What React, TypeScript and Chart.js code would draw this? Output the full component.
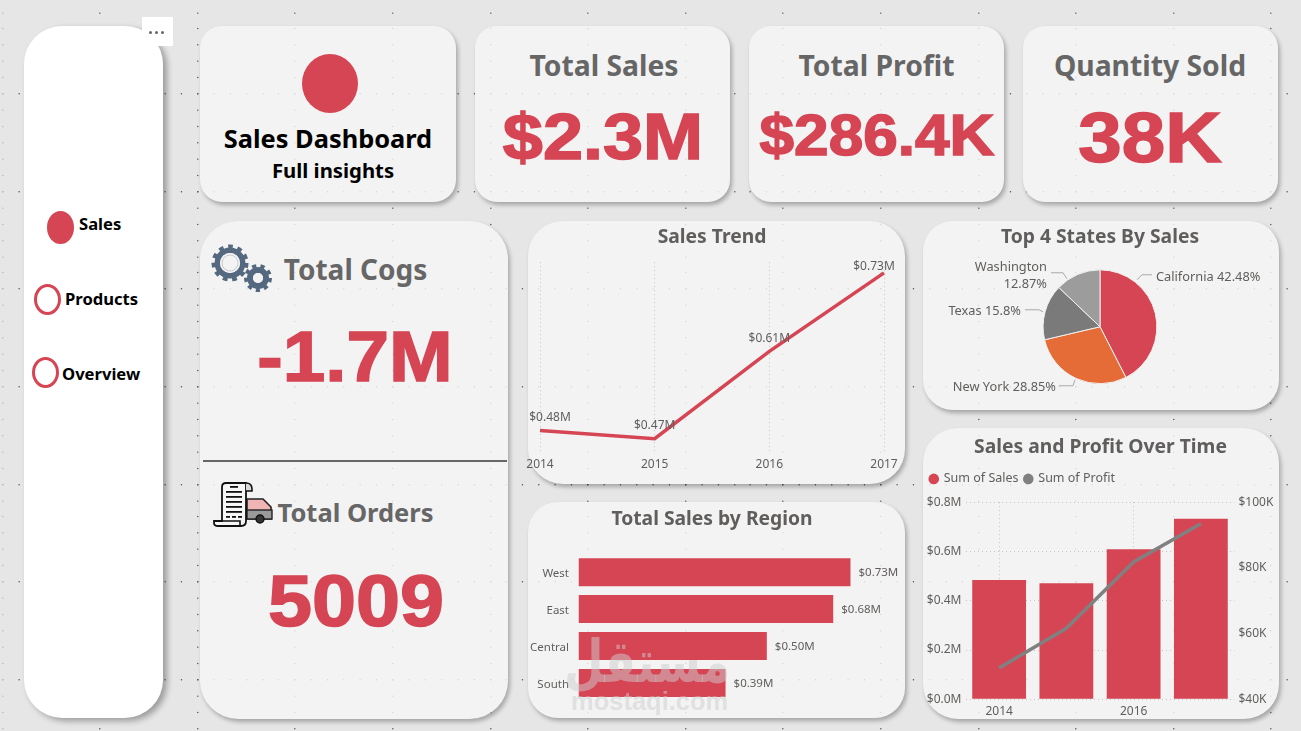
import { useEffect, useRef } from "react";
import { Chart, registerables } from "chart.js";

Chart.register(...registerables);

const FONT = '"Noto Sans", sans-serif';
const RED = "#d64554";
const GREY_TEXT = "#605e5c";

Chart.defaults.font.family = FONT;
Chart.defaults.color = GREY_TEXT;

// data
const years = ["2014", "2015", "2016", "2017"];
const salesByYear = [0.484, 0.471, 0.609, 0.733];
const trendLabels = ["$0.48M", "$0.47M", "$0.61M", "$0.73M"];
const profitByYear = [49.5, 61.6, 81.8, 93.4];
const regions = ["West", "East", "Central", "South"];
const regionSales = [0.725, 0.679, 0.502, 0.392];
const regionLabels = ["$0.73M", "$0.68M", "$0.50M", "$0.39M"];
const states = ["California", "New York", "Texas", "Washington"];
const stateShares = [42.48, 28.85, 15.8, 12.87];
const stateColors = [RED, "#e66c37", "#7a7a7a", "#9c9c9c"];

// leader lines of the pie labels, relative to the pie's centre
const pieLeaders = [
  { pts: [[37, -47], [42, -52], [52, -52]], x: 56, y: [-49], align: "left" },
  { pts: [[-25, 53], [-27, 59], [-41, 59]], x: -44, y: [61], align: "right" },
  { pts: [[-57, -15], [-61, -17], [-75, -17]], x: -79, y: [-15], align: "right" },
  { pts: [[-33, -48], [-37, -54], [-49, -54]], x: -53, y: [-59, -42], align: "right" },
];

function titleOpt(text: string, top: number, bottom: number) {
  return {
    display: true,
    text,
    color: GREY_TEXT,
    font: { size: 19.3, weight: "bold" as const, lineHeight: 1.2 },
    padding: { top, bottom },
  };
}

const trendLabelsPlugin = {
  id: "trendLabels",
  afterDatasetsDraw(chart: Chart) {
    const { ctx } = chart;
    const pts = chart.getDatasetMeta(0).data;
    ctx.save();
    ctx.font = `12px ${FONT}`;
    ctx.fillStyle = GREY_TEXT;
    ctx.textAlign = "center";
    ctx.textBaseline = "middle";
    pts.forEach((p, i) => {
      const x = Math.min(Math.max(p.x, 42), 366);
      const y = Math.max(p.y - 13, 46);
      ctx.fillText(trendLabels[i], x, y);
    });
    ctx.restore();
  },
};

const regionLabelsPlugin = {
  id: "regionLabels",
  afterDatasetsDraw(chart: Chart) {
    const { ctx } = chart;
    const bars = chart.getDatasetMeta(0).data;
    ctx.save();
    ctx.font = `11.5px ${FONT}`;
    ctx.fillStyle = GREY_TEXT;
    ctx.textBaseline = "middle";
    bars.forEach((b, i) => {
      ctx.fillText(regionLabels[i], b.x + 8, b.y + 0.5);
    });
    ctx.restore();
  },
};

const pieLabelsPlugin = {
  id: "pieLabels",
  afterDatasetsDraw(chart: Chart) {
    const { ctx } = chart;
    const arc = chart.getDatasetMeta(0).data[0];
    ctx.save();
    ctx.font = `12.8px ${FONT}`;
    ctx.fillStyle = GREY_TEXT;
    ctx.strokeStyle = "#a8a8a8";
    ctx.textBaseline = "middle";
    pieLeaders.forEach((l, i) => {
      ctx.beginPath();
      l.pts.forEach(([dx, dy], j) => {
        if (j === 0) ctx.moveTo(arc.x + dx, arc.y + dy);
        else ctx.lineTo(arc.x + dx, arc.y + dy);
      });
      ctx.stroke();
      ctx.textAlign = l.align as CanvasTextAlign;
      const pct = stateShares[i] + "%";
      const lines = l.y.length > 1 ? [states[i], pct] : [states[i] + " " + pct];
      lines.forEach((t, j) => ctx.fillText(t, arc.x + l.x, arc.y + l.y[j]));
    });
    ctx.restore();
  },
};

// leaves some room under the legend, above the plot
const legendGapPlugin = {
  id: "legendGap",
  beforeInit(chart: any) {
    const fit = chart.legend.fit;
    chart.legend.fit = function () {
      fit.call(this);
      this.height += 7;
    };
  },
};

function ChartBox({ config, left, top, width, height }: any) {
  const ref = useRef<HTMLCanvasElement | null>(null);
  useEffect(() => {
    if (!ref.current) return;
    const chart = new Chart(ref.current, config);
    return () => chart.destroy();
  }, []);
  return (
    <div style={{ position: "absolute", left, top, width, height }}>
      <canvas ref={ref} width={width} height={height} />
    </div>
  );
}

const trendConfig: any = {
  type: "line",
  data: {
    labels: years,
    datasets: [
      { data: salesByYear, borderColor: RED, borderWidth: 3.5, pointRadius: 0, tension: 0 },
    ],
  },
  options: {
    responsive: false,
    animation: false,
    layout: { padding: { left: 32, right: 32, bottom: 6.6 } },
    plugins: { legend: { display: false }, tooltip: { enabled: false }, title: titleOpt("Sales Trend", 5.2, 12.8) },
    scales: {
      x: {
        grid: { color: "#c4c4c4", drawTicks: false },
        border: { display: false, dash: [1, 3] },
        ticks: { padding: 5.5, font: { size: 12 }, color: GREY_TEXT, maxRotation: 0 },
      },
      y: { display: false, min: 0.45, max: 0.75 },
    },
  },
  plugins: [trendLabelsPlugin],
};

const regionConfig: any = {
  type: "bar",
  data: {
    labels: regions,
    datasets: [
      { data: regionSales, backgroundColor: RED, categoryPercentage: 1, barPercentage: 0.757 },
    ],
  },
  options: {
    indexAxis: "y",
    responsive: false,
    animation: false,
    layout: { padding: { bottom: 16.5 } },
    plugins: { legend: { display: false }, tooltip: { enabled: false }, title: titleOpt("Total Sales by Region", 6, 22.5) },
    scales: {
      x: { display: false, min: 0, max: 0.873 },
      y: {
        grid: { display: false, drawTicks: false },
        border: { display: false },
        ticks: { padding: 9.5, labelOffset: 1.5, font: { size: 11.5 }, color: GREY_TEXT },
        afterFit: (axis: any) => { axis.width = 60.5; },
      },
    },
  },
  plugins: [regionLabelsPlugin],
};

const pieConfig: any = {
  type: "pie",
  data: {
    labels: states,
    datasets: [
      { data: stateShares, backgroundColor: stateColors, borderColor: "#f0f0f0", borderWidth: 1 },
    ],
  },
  options: {
    responsive: false,
    animation: false,
    layout: { padding: { bottom: 25.8 } },
    plugins: { legend: { display: false }, tooltip: { enabled: false }, title: titleOpt("Top 4 States By Sales", 4.7, 20.5) },
  },
  plugins: [pieLabelsPlugin],
};

const comboConfig: any = {
  type: "bar",
  data: {
    labels: years,
    datasets: [
      { type: "bar", label: "Sum of Sales", data: salesByYear, backgroundColor: RED, yAxisID: "y", order: 2, categoryPercentage: 1, barPercentage: 0.8 },
      { type: "line", label: "Sum of Profit", data: profitByYear, borderColor: "#808080", backgroundColor: "#808080", borderWidth: 3.5, pointRadius: 0, tension: 0, yAxisID: "y1", order: 1 },
    ],
  },
  options: {
    responsive: false,
    animation: false,
    layout: { padding: { bottom: 0.3 } },
    plugins: {
      tooltip: { enabled: false },
      title: titleOpt("Sales and Profit Over Time", 7.5, 8),
      legend: {
        position: "top",
        align: "start",
        labels: {
          usePointStyle: true,
          pointStyle: "circle",
          boxWidth: 7.5,
          boxHeight: 7.5,
          padding: 6,
          color: GREY_TEXT,
          font: { size: 12.5 },
          sort: (a: any, b: any) => a.datasetIndex - b.datasetIndex,
          generateLabels: (chart: any) =>
            Chart.defaults.plugins.legend.labels.generateLabels(chart).map((item: any) => ({ ...item, lineWidth: 0 })),
        },
      },
    },
    scales: {
      x: {
        grid: {
          offset: false,
          drawTicks: false,
          color: (c: any) => (c.index % 2 === 0 ? "#c4c4c4" : "transparent"),
        },
        border: { display: false, dash: [1, 3] },
        ticks: {
          autoSkip: false,
          maxRotation: 0,
          padding: 5,
          font: { size: 12 },
          color: GREY_TEXT,
          callback(this: any, _v: any, i: number) { return i % 2 === 0 ? years[i] : ""; },
        },
      },
      y: {
        position: "left",
        min: 0,
        max: 0.8,
        grid: { color: "#c4c4c4", drawTicks: false },
        border: { display: false, dash: [1, 3] },
        ticks: { stepSize: 0.2, padding: 4, font: { size: 12 }, color: GREY_TEXT, callback: (v: any) => "$" + Number(v).toFixed(1) + "M" },
        afterFit: (axis: any) => { axis.width = 41.5; },
      },
      y1: {
        position: "right",
        min: 40,
        max: 100,
        grid: { display: false, drawTicks: false },
        border: { display: false },
        ticks: { stepSize: 20, padding: 4, font: { size: 12 }, color: GREY_TEXT, callback: (v: any) => "$" + v + "K" },
        afterFit: (axis: any) => { axis.width = 42.5; },
      },
    },
  },
  plugins: [legendGapPlugin],
};

function dotTile() {
  const step = 97.6 / 6;
  let dots = "";
  for (let i = 0; i < 6; i++) {
    dots += `<circle cx='0.8' cy='${(i * step + 0.8).toFixed(2)}' r='0.7' fill='%23555'/>`;
    dots += `<circle cx='${(i * step + 0.8).toFixed(2)}' cy='0.8' r='0.7' fill='%23555'/>`;
  }
  return `url("data:image/svg+xml;utf8,<svg xmlns='http://www.w3.org/2000/svg' width='97.6' height='97.6'>${dots}</svg>")`;
}

const dotLayer = {
  position: "absolute" as const,
  left: 0,
  top: 0,
  width: 1301,
  height: 731,
  backgroundImage: dotTile(),
  backgroundSize: "97.6px 97.6px",
  backgroundPosition: "1.6px -4.4px",
};

function Card({ x, y, w, h, r }: any) {
  return (
    <div
      style={{
        position: "absolute",
        left: x,
        top: y,
        width: w,
        height: h,
        borderRadius: r,
        background: "#f3f3f3",
        boxShadow: "2px 3px 4px rgba(0,0,0,0.28)",
      }}
    />
  );
}

function Label({ x, y, size, color, text, left }: any) {
  return (
    <div
      style={{
        position: "absolute",
        left: x,
        top: y,
        transform: left ? "translate(0,-50%)" : "translate(-50%,-50%)",
        whiteSpace: "nowrap",
        fontFamily: FONT,
        fontWeight: 700,
        fontSize: size,
        lineHeight: 1.2,
        color,
      }}
    >
      {text}
    </div>
  );
}

// the big KPI numbers are a wide, heavy face in the original
function BigNumber({ x, y, size, text }: any) {
  return (
    <div
      style={{
        position: "absolute",
        left: x,
        top: y,
        transform: "translate(-50%,-50%) scaleX(1.1)",
        whiteSpace: "nowrap",
        fontFamily: '"Liberation Sans", sans-serif',
        fontWeight: 700,
        fontSize: size,
        lineHeight: 1.2,
        color: RED,
        WebkitTextStroke: `1.5px ${RED}`,
      }}
    >
      {text}
    </div>
  );
}

function Ellipse({ cx, cy, rx, ry, filled }: any) {
  return (
    <div
      style={{
        position: "absolute",
        left: cx - rx,
        top: cy - ry,
        width: rx * 2,
        height: ry * 2,
        boxSizing: "border-box",
        borderRadius: "50%",
        background: filled ? RED : "transparent",
        border: filled ? "none" : `3px solid ${RED}`,
      }}
    />
  );
}

function Gear({ cx, cy, r, hole, teeth }: any) {
  const toothR = r - 2.2;
  const dash = (2 * Math.PI * toothR) / teeth / 2;
  return (
    <g>
      <circle cx={cx} cy={cy} r={toothR} fill="none" stroke="#54697f" strokeWidth={4.4} strokeDasharray={`${dash} ${dash}`} />
      <circle cx={cx} cy={cy} r={(r - 3 + hole) / 2} fill="none" stroke="#54697f" strokeWidth={r - 3 - hole} />
      <circle cx={cx} cy={cy} r={hole} fill="#f3f3f3" />
    </g>
  );
}

function GearsIcon() {
  return (
    <svg style={{ position: "absolute", left: 208, top: 240 }} width={70} height={56}>
      <Gear cx={22} cy={23} r={18.5} hole={10} teeth={11} />
      <circle cx={22} cy={23} r={8} fill="none" stroke="#b9c2cb" strokeWidth={0.8} />
      <Gear cx={50} cy={38} r={14} hole={5} teeth={9} />
    </svg>
  );
}

function OrdersIcon() {
  const rows = [10, 15, 20, 25, 30];
  return (
    <svg style={{ position: "absolute", left: 213, top: 481 }} width={62} height={50}>
      <path d="M34 18 H50 L58 26 V38 H34 Z" fill="#efb5b5" stroke="#222" strokeWidth={1.6} />
      <rect x={34} y={29} width={25} height={9} fill="#9a9a9a" stroke="#222" strokeWidth={1.4} />
      <circle cx={47} cy={38} r={4} fill="#333" stroke="#111" strokeWidth={1.4} />
      <path d="M9 40 V6 Q9 2 13 2 H33 V40 Q33 45 28 45 H5 Q1 45 1 42 V40 Z" fill="#f6f6f6" stroke="#111" strokeWidth={1.8} />
      <path d="M1 40 H27 V45" fill="none" stroke="#111" strokeWidth={1.6} />
      <path d="M33 2 Q39 2 39 8 V10 H33" fill="#d8d8d8" stroke="#111" strokeWidth={1.6} />
      <rect x={17} y={5} width={8} height={1.8} fill="#111" />
      {rows.map((ry) => (
        <rect key={ry} x={13} y={ry} width={16} height={1.8} fill="#111" />
      ))}
      <rect x={13} y={35} width={4} height={1.8} fill="#111" />
      <rect x={19} y={35} width={4} height={1.8} fill="#111" />
      <rect x={25} y={35} width={4} height={1.8} fill="#111" />
    </svg>
  );
}

export default function App() {
  return (
    <div style={{ position: "absolute", left: 0, top: 0, width: 1301, height: 731, overflow: "hidden", background: "#e6e6e6" }}>
      <div style={dotLayer} />
      <div style={{ position: "absolute", left: 0, top: 0, width: 8, height: 731, background: "rgba(230,230,230,0.8)" }} />

      <Card x={200} y={26} w={256} h={176} r={22} />
      <Card x={475} y={26} w={255} h={176} r={22} />
      <Card x={749} y={26} w={255} h={176} r={22} />
      <Card x={1023} y={26} w={255} h={176} r={22} />
      <Card x={200} y={221} w={308} h={498} r={38} />
      <Card x={528} y={221} w={377} h={263} r={35} />
      <Card x={528} y={502} w={377} h={216} r={30} />
      <Card x={923} y={221} w={356} h={189} r={30} />
      <Card x={923} y={428} w={356} h={291} r={35} />
      <div style={{ ...dotLayer, opacity: 0.18 }} />

      {/* side menu */}
      <div style={{ position: "absolute", left: 24, top: 26, width: 139, height: 692, borderRadius: 38, background: "#fff", boxShadow: "4px 3px 6px rgba(0,0,0,0.33)" }} />
      <div style={{ position: "absolute", left: 142, top: 17, width: 31, height: 29, background: "#fff" }} />
      {[149, 155, 161].map((x) => (
        <div key={x} style={{ position: "absolute", left: x, top: 31, width: 3, height: 3, borderRadius: 2, background: "#666" }} />
      ))}
      <Ellipse cx={60} cy={227} rx={13.5} ry={16.5} filled />
      <Ellipse cx={47} cy={299} rx={13.5} ry={15.5} />
      <Ellipse cx={45} cy={372} rx={13.5} ry={15.5} />
      <Label x={79} y={224} size={16.6} color="#000" text="Sales" left />
      <Label x={65} y={299} size={16.6} color="#000" text="Products" left />
      <Label x={62} y={374} size={16.6} color="#000" text="Overview" left />

      {/* header cards */}
      <Ellipse cx={330} cy={83} rx={28} ry={29.5} filled />
      <Label x={328} y={138} size={25.4} color="#000" text="Sales Dashboard" />
      <Label x={333} y={170} size={20.3} color="#000" text="Full insights" />
      <Label x={604} y={66} size={28.3} color="#666" text="Total Sales" />
      <Label x={876.5} y={66} size={28.3} color="#666" text="Total Profit" />
      <Label x={1150} y={66} size={28.3} color="#666" text="Quantity Sold" />
      <BigNumber x={603} y={137} size={65.5} text="$2.3M" />
      <BigNumber x={876.5} y={136} size={56.5} text="$286.4K" />
      <BigNumber x={1150} y={138} size={71} text="38K" />

      {/* cogs and orders */}
      <GearsIcon />
      <OrdersIcon />
      <Label x={355.5} y={270} size={28} color="#666" text="Total Cogs" />
      <Label x={355.5} y={512} size={25.5} color="#666" text="Total Orders" />
      <BigNumber x={354.5} y={358} size={69.5} text="-1.7M" />
      <BigNumber x={355.5} y={601} size={72} text="5009" />
      <div style={{ position: "absolute", left: 203, top: 460, width: 304, height: 2, background: "#666" }} />

      <ChartBox config={trendConfig} left={508} top={221} width={408} height={263} />
      <ChartBox config={regionConfig} left={518} top={502} width={388} height={216} />
      <ChartBox config={pieConfig} left={923} top={221} width={354} height={189} />
      <ChartBox config={comboConfig} left={923.5} top={428} width={353} height={296} />

      {/* watermark */}
      <div style={{ position: "absolute", left: 564, top: 636, width: 156, textAlign: "center", transform: "scale(1,1.3)", fontFamily: '"DejaVu Sans", sans-serif', fontWeight: 700, fontSize: 45.5, lineHeight: 1.2, color: "rgba(205,205,205,0.5)", whiteSpace: "nowrap" }}>
        مستقل
      </div>
      <div style={{ position: "absolute", left: 571, top: 686, fontFamily: '"Liberation Sans", sans-serif', fontWeight: 700, fontSize: 25.5, lineHeight: 1.2, color: "rgba(205,205,205,0.5)", whiteSpace: "nowrap" }}>
        mostaqi.com
      </div>
    </div>
  );
}
